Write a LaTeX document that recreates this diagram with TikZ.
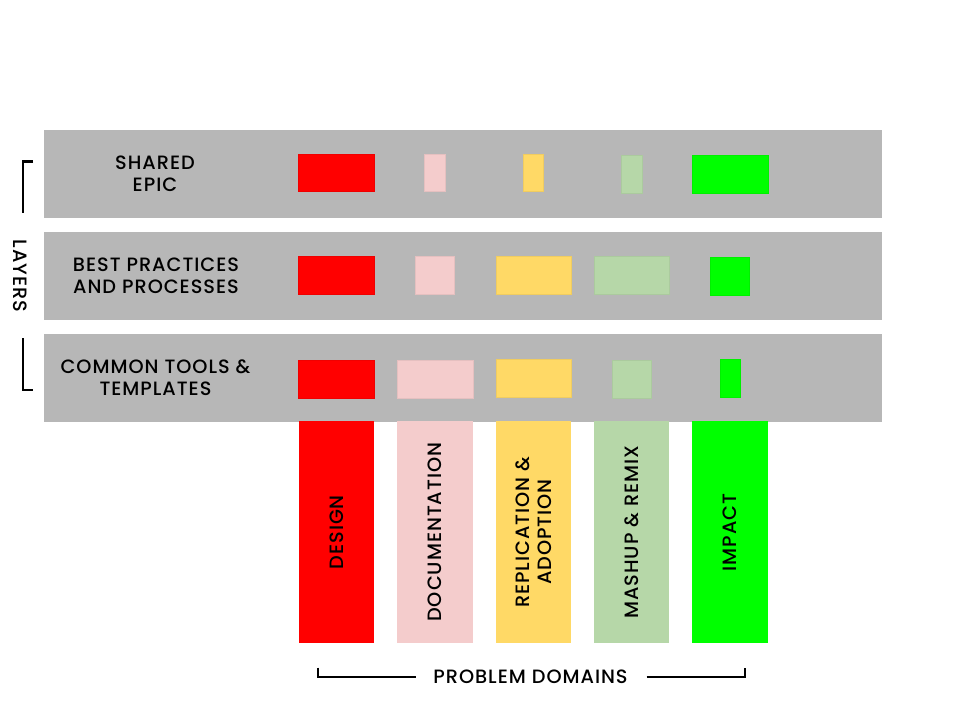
\documentclass[tikz,border=0pt]{standalone}
\usepackage{fontspec}
\setmainfont{Poppins}[UprightFont=* Medium, LetterSpace=5]
\definecolor{bandgray}{HTML}{B7B7B7}
\definecolor{cred}{HTML}{FF0000}
\definecolor{cpink}{HTML}{F4CCCC}
\definecolor{cyellow}{HTML}{FFD966}
\definecolor{clgreen}{HTML}{B6D7A8}
\definecolor{cgreen}{HTML}{00FF00}
\tikzset{
  band/.style={fill=bandgray, draw=none, inner sep=0, minimum width=838, minimum height=88, anchor=north west},
  blk/.style={draw=#1!94!black, line width=0.4, fill=#1, inner sep=0},
  lbl/.style={inner sep=0, align=center, font=\fontsize{19.3}{21.7}\selectfont, text=black},
  brk/.style={line width=2.6, draw=black},
}
\newcommand{\blkat}[6]{\node[blk=#6, anchor=north west, minimum width={#3-#1}, minimum height={#4-#2}] (#5) at (#1,#2) {};}
\begin{document}
\begin{tikzpicture}[x=1pt,y=-1pt]
\useasboundingbox (0,0) rectangle (960,720);
\fill[white] (0,0) rectangle (960,720);
% bands
\node[band] (b1) at (44,130) {};
\node[band] (b2) at (44,231.7) {};
\node[band] (b3) at (44,333.3) {};
% row labels
\node[lbl] (l1) at (155,174) {SHARED\\EPIC};
\node[lbl] (l2) at (156,276) {BEST PRACTICES\\AND PROCESSES};
\node[lbl] (l3) at (155.5,378) {COMMON TOOLS \&\\TEMPLATES};
% row 1 blocks
\blkat{298.3}{153.5}{374}{191.3}{r1a}{cred}
\blkat{424}{153.5}{445}{191.3}{r1b}{cpink}
\blkat{522.7}{153.5}{543.3}{191.3}{r1c}{cyellow}
\blkat{621}{155}{641.7}{192.7}{r1d}{clgreen}
\blkat{692}{155}{767.7}{192.7}{r1e}{cgreen}
% row 2 blocks
\blkat{298.3}{256}{374}{293.7}{r2a}{cred}
\blkat{415}{256}{454}{293.7}{r2b}{cpink}
\blkat{495.7}{256}{571}{293.7}{r2c}{cyellow}
\blkat{594}{256}{669}{293.7}{r2d}{clgreen}
\blkat{710.3}{257}{749.3}{294.7}{r2e}{cgreen}
% row 3 blocks
\blkat{298.3}{360}{374}{397.7}{r3a}{cred}
\blkat{397}{360}{472.7}{397.7}{r3b}{cpink}
\blkat{495.7}{358.7}{571}{396.7}{r3c}{cyellow}
\blkat{612}{360}{651}{397.7}{r3d}{clgreen}
\blkat{719.7}{358.7}{740}{396.7}{r3e}{cgreen}
% columns
\node[fill=cred, inner sep=0, anchor=north west, minimum width=75.7, minimum height=222] (c1) at (298.3,421) {};
\node[fill=cpink, inner sep=0, anchor=north west, minimum width=75.7, minimum height=222] (c2) at (397,421) {};
\node[fill=cyellow, inner sep=0, anchor=north west, minimum width=75.3, minimum height=222] (c3) at (495.7,421) {};
\node[fill=clgreen, inner sep=0, anchor=north west, minimum width=75, minimum height=222] (c4) at (594,421) {};
\node[fill=cgreen, inner sep=0, anchor=north west, minimum width=75.7, minimum height=222] (c5) at (692,421) {};
% column labels
\node[lbl, rotate=90] (t1) at (c1.center) {DESIGN};
\node[lbl, rotate=90] (t2) at (c2.center) {DOCUMENTATION};
\node[lbl, rotate=90] (t3) at (c3.center) {REPLICATION \&\\ADOPTION};
\node[lbl, rotate=90] (t4) at (c4.center) {MASHUP \& REMIX};
\node[lbl, rotate=90] (t5) at (c5.center) {IMPACT};
% layers bracket
\node[lbl, rotate=-90] (layers) at (20,276) {LAYERS};
\coordinate (lt1) at (33,161.7);
\coordinate (lt2) at (23,161.7);
\coordinate (lt3) at (23,213.3);
\coordinate (lb1) at (23,338.3);
\coordinate (lb2) at (23,390);
\coordinate (lb3) at (33,390);
\draw[brk] (lt1) -- (lt2) -- (lt3);
\draw[brk] (lb1) -- (lb2) -- (lb3);
% problem domains bracket
\node[lbl] (pd) at (530.5,676.7) {PROBLEM DOMAINS};
\coordinate (pl1) at (318,667.5);
\coordinate (pl2) at (318,677);
\coordinate (pl3) at (416,677);
\coordinate (pr1) at (646.7,677);
\coordinate (pr2) at (745,677);
\coordinate (pr3) at (745,667.5);
\draw[brk] (pl1) -- (pl2) -- (pl3);
\draw[brk] (pr1) -- (pr2) -- (pr3);
\end{tikzpicture}
\end{document}
